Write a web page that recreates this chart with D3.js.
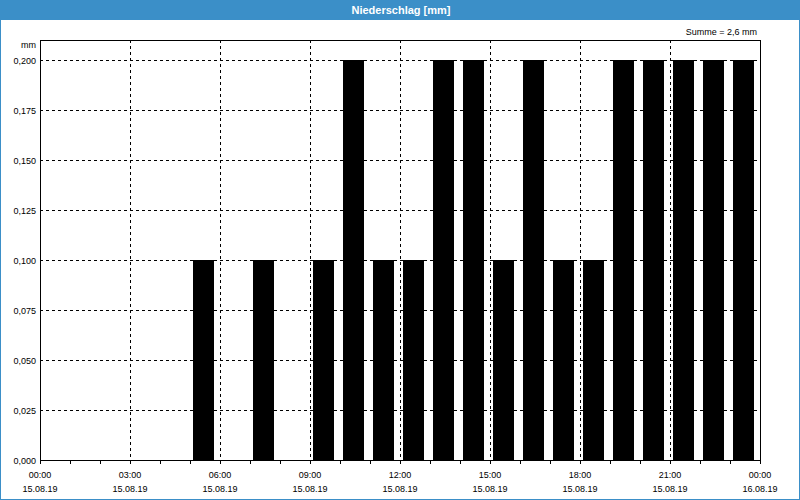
<!DOCTYPE html>
<html><head><meta charset="utf-8">
<script src="https://cdn.jsdelivr.net/npm/d3@7"></script>
<style>
html,body{margin:0;padding:0;background:#fff;}
text{font-family:"Liberation Sans",Arial,sans-serif;}
</style></head>
<body>
<svg id="c" width="800" height="500"></svg>
<script>
const title = "Niederschlag [mm]";
const sumLabel = "Summe = 2,6 mm";
const unitLabel = "mm";
const hours = d3.range(24);
const values = [0,0,0,0,0,0.1,0,0.1,0,0.1,0.2,0.1,0.1,0.2,0.2,0.1,0.2,0.1,0.1,0.2,0.2,0.2,0.2,0.2];
const yTicks = [0,0.025,0.05,0.075,0.1,0.125,0.15,0.175,0.2];
const xTickHours = [0,3,6,9,12,15,18,21,24];

const W = 800, H = 500;
const m = {l:40, r:760, t:40, b:460};
const svg = d3.select("#c");
const blue = "#3b8fc8";

svg.append("rect").attr("x",0).attr("y",0).attr("width",W).attr("height",H).attr("fill","#fff");
svg.append("rect").attr("x",0).attr("y",0).attr("width",W).attr("height",20).attr("fill",blue);
svg.append("rect").attr("x",0.5).attr("y",0.5).attr("width",W-1).attr("height",H-1)
  .attr("fill","none").attr("stroke",blue).attr("stroke-width",1);
svg.append("text").attr("x",401).attr("y",14).attr("text-anchor","middle")
  .attr("fill","#fff").attr("font-size","11px").attr("font-weight","bold").text(title);

const t0 = new Date(Date.UTC(2019,7,15,0,0));
const t1 = new Date(Date.UTC(2019,7,16,0,0));
const x = d3.scaleUtc().domain([t0,t1]).range([m.l,m.r]);
const y = d3.scaleLinear().domain([0,0.21]).range([m.b,m.t]);
const hd = h => new Date(t0.getTime() + h*3600000);

// grid
const g = svg.append("g").attr("shape-rendering","crispEdges");
g.selectAll("line.hg").data(yTicks.filter(v=>v>0)).join("line")
  .attr("x1",m.l).attr("x2",m.r).attr("y1",d=>Math.round(y(d))+0.5).attr("y2",d=>Math.round(y(d))+0.5)
  .attr("stroke","#000").attr("stroke-dasharray","3,3");
g.selectAll("line.vg").data(xTickHours.filter(h=>h>0&&h<24)).join("line")
  .attr("y1",m.t).attr("y2",m.b).attr("x1",d=>Math.round(x(hd(d)))+0.5).attr("x2",d=>Math.round(x(hd(d)))+0.5)
  .attr("stroke","#000").attr("stroke-dasharray","3,3");

// bars
const bw = (x(hd(1))-x(hd(0)));
svg.append("g").attr("shape-rendering","crispEdges").selectAll("rect").data(hours.filter(h=>values[h]>0)).join("rect")
  .attr("x",h=>x(hd(h))+bw*0.1).attr("width",bw*0.7)
  .attr("y",h=>y(values[h])).attr("height",h=>m.b-y(values[h]))
  .attr("fill","#000");

// frame
g.append("rect").attr("x",m.l+0.5).attr("y",m.t+0.5).attr("width",m.r-m.l).attr("height",m.b-m.t)
  .attr("fill","none").attr("stroke","#000");

// x axis
const xa = svg.append("g").attr("transform",`translate(0,${m.b+0.5})`);
xa.call(d3.axisBottom(x).tickValues(hours.concat([24]).map(hd)).tickSize(3).tickFormat(""))
  .call(s=>s.select(".domain").remove())
  .call(s=>s.selectAll("line").attr("shape-rendering","crispEdges"));
const fT = d3.utcFormat("%H:%M"), fD = d3.utcFormat("%d.%m.%y");
const xl = svg.append("g");
xl.selectAll("text.t").data(xTickHours).join("text")
  .attr("x",d=>x(hd(d))).attr("y",478).attr("text-anchor","middle").attr("font-size","9px").attr("fill","#000")
  .text(d=>fT(hd(d)));
xl.selectAll("text.d").data(xTickHours).join("text")
  .attr("x",d=>x(hd(d))).attr("y",492).attr("text-anchor","middle").attr("font-size","9px").attr("fill","#000")
  .text(d=>fD(hd(d)));

// y axis labels
const fY = v => d3.format(".3f")(v).replace(".",",");
svg.append("g").selectAll("text").data(yTicks).join("text")
  .attr("x",36).attr("y",d=>y(d)+3.5).attr("text-anchor","end").attr("font-size","9px").attr("fill","#000")
  .text(fY);
svg.append("text").attr("x",36).attr("y",48).attr("text-anchor","end").attr("font-size","9px").text(unitLabel);
svg.append("text").attr("x",757).attr("y",35).attr("text-anchor","end").attr("font-size","9px").text(sumLabel);
</script>
</body></html>
